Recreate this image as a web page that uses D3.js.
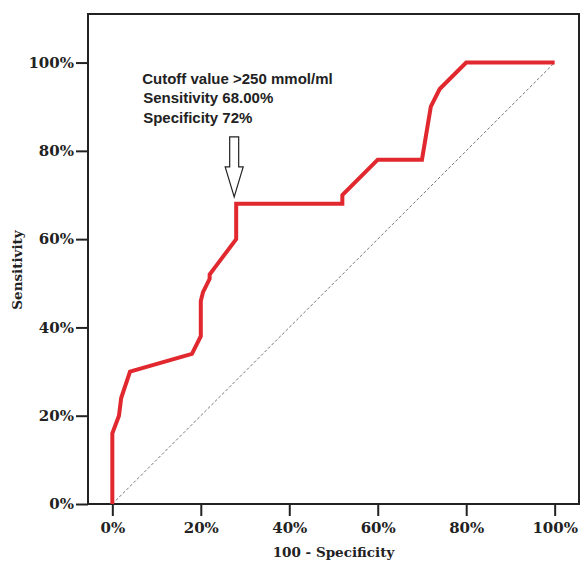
<!DOCTYPE html>
<html>
<head>
<meta charset="utf-8">
<script src="https://cdn.jsdelivr.net/npm/d3@7"></script>
<style>
  body { margin: 0; background: #fff; }
  svg { display: block; }
  .tick text { font-family: "DejaVu Serif", serif; font-weight: bold; font-size: 15px; fill: #222; }
  .tick line { stroke: #222; stroke-width: 2; }
  .title { font-family: "DejaVu Serif", serif; font-weight: bold; font-size: 13.5px; fill: #222; }
  .note { font-family: "Liberation Sans", Arial, sans-serif; font-weight: bold; font-size: 15px; fill: #222; }
</style>
</head>
<body>
<svg width="580" height="561"></svg>
<script>
const width = 580;
const height = 561;
const margin = { top: 14, right: 1, bottom: 57, left: 88 };

// ROC curve: 100 - specificity (%) vs sensitivity (%)
const fpr = [0, 0, 1.5, 2, 4, 18, 20, 20, 20.5, 22, 22, 23.5, 28, 28, 52, 52, 60, 70, 72, 74, 80, 100];
const tpr = [0, 16, 20, 24, 30, 34, 38, 46, 48, 51, 52, 54, 60, 68, 68, 70, 78, 78, 90, 94, 100, 100];
const tickValues = [0, 20, 40, 60, 80, 100];
const cutoff = { fpr: 28, tpr: 68 };
const noteLines = ["Cutoff value >250 mmol/ml", "Sensitivity 68.00%", "Specificity 72%"];

const w = width - margin.left - margin.right;
const h = height - margin.top - margin.bottom;

const svg = d3.select("svg");
const g = svg.append("g").attr("transform", `translate(${margin.left},${margin.top})`);

const x = d3.scaleLinear().domain([-5.5, 105.5]).range([0, w]);
const y = d3.scaleLinear().domain([0, 111]).range([h, 0]);

// axes
g.append("g")
  .attr("transform", `translate(0,${h})`)
  .call(d3.axisBottom(x).tickValues(tickValues).tickSize(12).tickPadding(6).tickFormat((d) => d + "%"))
  .call((a) => a.select(".domain").remove());

g.append("g")
  .call(d3.axisLeft(y).tickValues(tickValues).tickSize(12).tickPadding(2).tickFormat((d) => d + "%"))
  .call((a) => a.select(".domain").remove());

// frame
g.append("rect")
  .attr("width", w)
  .attr("height", h)
  .attr("fill", "none")
  .attr("stroke", "#222")
  .attr("stroke-width", 2);

// reference diagonal
g.append("line")
  .attr("x1", x(0)).attr("y1", y(0))
  .attr("x2", x(100)).attr("y2", y(100))
  .attr("stroke", "#777")
  .attr("stroke-width", 1)
  .attr("stroke-dasharray", "3,2");

// ROC line
const pts = fpr.map((d, i) => [d, tpr[i]]);
g.append("path")
  .datum(pts)
  .attr("fill", "none")
  .attr("stroke", "#e0282e")
  .attr("stroke-width", 4)
  .attr("stroke-linejoin", "miter")
  .attr("d", d3.line().x((d) => x(d[0])).y((d) => y(d[1])));

// hollow arrow pointing at cutoff
const tipX = x(cutoff.fpr) - 2;
const tipY = y(cutoff.tpr) - 7;
const shaft = 4.5, head = 9, headLen = 30, shaftLen = 30;
const arrow = [
  [tipX, tipY],
  [tipX - head, tipY - headLen],
  [tipX - shaft, tipY - headLen],
  [tipX - shaft, tipY - headLen - shaftLen],
  [tipX + shaft, tipY - headLen - shaftLen],
  [tipX + shaft, tipY - headLen],
  [tipX + head, tipY - headLen],
];
g.append("polygon")
  .attr("points", arrow.map((p) => p.join(",")).join(" "))
  .attr("fill", "#fff")
  .attr("stroke", "#222")
  .attr("stroke-width", 1.2);

// annotation
g.append("g")
  .selectAll("text")
  .data(noteLines)
  .join("text")
  .attr("class", "note")
  .attr("x", (d, i) => tipX - 92 + (i ? 1 : 0))
  .attr("y", (d, i) => tipY - 113 + i * 19.5)
  .text((d) => d);

// axis titles
svg.append("text")
  .attr("class", "title")
  .attr("text-anchor", "middle")
  .attr("x", margin.left + x(50))
  .attr("y", 557)
  .text("100 - Specificity");

svg.append("text")
  .attr("class", "title")
  .attr("text-anchor", "middle")
  .attr("transform", `translate(22,${margin.top + y(53)}) rotate(-90)`)
  .text("Sensitivity");
</script>
</body>
</html>
